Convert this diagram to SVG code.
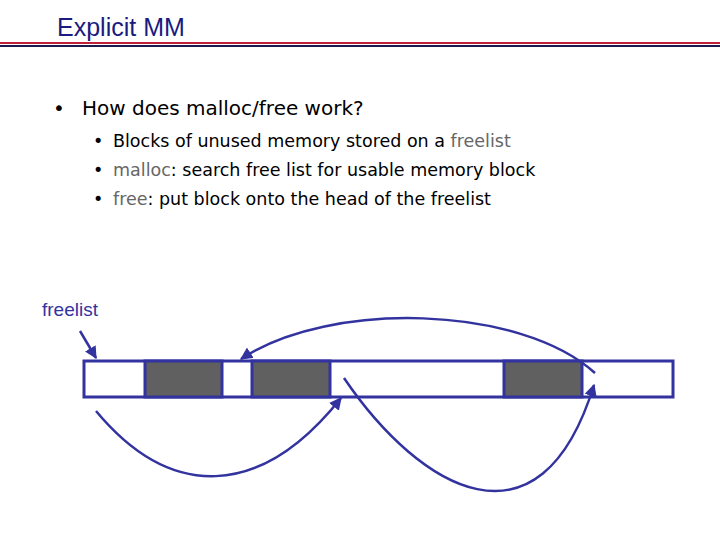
<svg xmlns="http://www.w3.org/2000/svg" width="720" height="540" viewBox="0 0 720 540">
<style>
.t{font-family:"DejaVu Sans",Verdana,sans-serif;fill:#000}
.g{fill:#666}
.ln{fill:none;stroke:#3333a0;stroke-width:2.5}
</style>
<defs><marker id="ah" viewBox="0 0 10 10" refX="9" refY="5" markerWidth="5" markerHeight="5" orient="auto"><path d="M0,0L10,5L0,10z" fill="#3333a0"/></marker></defs>
<rect width="720" height="540" fill="#fff"/>
<text x="57" y="36" font-family="Liberation Sans,Arial,sans-serif" font-size="25" fill="#1a1a80">Explicit MM</text>
<rect x="0" y="42" width="720" height="2" fill="#c0203a"/>
<rect x="0" y="45" width="720" height="2" fill="#1a1a50"/>
<text class="t" x="53" y="115" font-size="20">•</text>
<text class="t" x="82" y="115" font-size="20">How does malloc/free work?</text>
<g class="t" font-size="17.5">
<text x="93" y="147">•</text><text x="113" y="147">Blocks of unused memory stored on a <tspan class="g">freelist</tspan></text>
<text x="93" y="176">•</text><text x="113" y="176"><tspan class="g">malloc</tspan>: search free list for usable memory block</text>
<text x="93" y="205">•</text><text x="113" y="205"><tspan class="g">free</tspan>: put block onto the head of the freelist</text>
</g>
<g id="freelist-label"><text x="42" y="316" font-family="Liberation Sans,Arial,sans-serif" font-size="19" fill="#3333a0">freelist</text></g>
<g id="memory">
<rect x="84" y="361" width="589" height="36" fill="#fff" stroke="#3333a0" stroke-width="3"/>
<rect x="145" y="361" width="77" height="36" fill="#606060" stroke="#3333a0" stroke-width="3"/>
<rect x="252" y="361" width="78" height="36" fill="#606060" stroke="#3333a0" stroke-width="3"/>
<rect x="504" y="361" width="78" height="36" fill="#606060" stroke="#3333a0" stroke-width="3"/>
</g>
<g id="connectors">
<path class="ln" marker-end="url(#ah)" d="M80,331L96,358"/>
<path class="ln" marker-end="url(#ah)" d="M595,373C520,305 330,300 241,359"/>
<path class="ln" marker-end="url(#ah)" d="M96,411C170,500 260,500 341,398"/>
<path class="ln" marker-end="url(#ah)" d="M344,378C420,490 540,560 594,385"/>
</g>
</svg>
